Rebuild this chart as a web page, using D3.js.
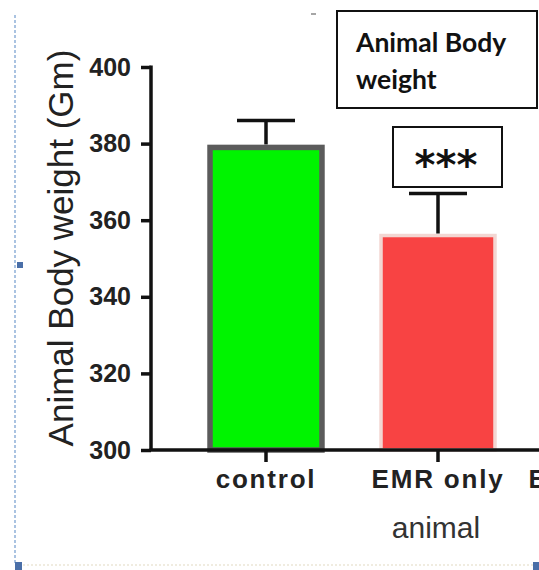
<!DOCTYPE html>
<html>
<head>
<meta charset="utf-8">
<script src="https://cdn.jsdelivr.net/npm/d3@7"></script>
<style>
  body { margin: 0; background: #fff; }
  svg { display: block; }
  .axis path, .axis line { stroke: #111; stroke-width: 3.5; }
  .axis text { font-family: "Liberation Sans", Arial, sans-serif; font-weight: bold; fill: #222; }
</style>
</head>
<body>
<div id="chart"></div>
<script>
// data
let groups = ['control', 'EMR only', 'EMR + drug'];
let means = [379, 356, null];
let errors = [7, 11, null];
let yTicks = [300, 320, 340, 360, 380, 400];
let barColors = ['#00f400', '#f84343', '#888'];
let barStrokes = ['#5b5b5b', '#f3d6d2', '#888'];

let W = 539, H = 570;
let svg = d3.select('#chart').append('svg').attr('width', W).attr('height', H);

// page decorations (selection frame of the source document)
svg.append('line').attr('x1', 15).attr('x2', 15).attr('y1', 15).attr('y2', 565)
    .attr('stroke', '#8fb0d8').attr('stroke-width', 1.5).attr('stroke-dasharray', '3,2');
svg.append('line').attr('x1', 15).attr('x2', W).attr('y1', 565).attr('y2', 565)
    .attr('stroke', '#ece6d6').attr('stroke-width', 1.5).attr('stroke-dasharray', '2,2');
svg.append('rect').attr('x', 17).attr('y', 262).attr('width', 6).attr('height', 6).attr('fill', '#4a6fa8');
svg.append('rect').attr('x', 15).attr('y', 562).attr('width', 7).attr('height', 8).attr('fill', '#4a6fa8');
svg.append('rect').attr('x', 533).attr('y', 562).attr('width', 6).attr('height', 8).attr('fill', '#4a6fa8');
svg.append('line').attr('x1', 311).attr('x2', 316).attr('y1', 14).attr('y2', 14)
    .attr('stroke', '#888').attr('stroke-width', 1.5);

let x = d3.scaleBand().domain(groups).range([180, 696]).paddingInner(0.32).paddingOuter(0.16);
let y = d3.scaleLinear().domain([300, 400]).range([450, 67]);
let x0 = 151;

// bars
let bars = groups.map(function(g, i) { return {g: g, v: means[i], e: errors[i], i: i}; })
    .filter(function(d) { return d.v != null; });

svg.append('g').selectAll('rect').data(bars).enter().append('rect')
    .attr('x', function(d) { return x(d.g) + (d.i === 0 ? 2.5 : 1.5); })
    .attr('y', function(d) { return y(d.v); })
    .attr('width', function(d) { return x.bandwidth() - (d.i === 0 ? 5 : 3); })
    .attr('height', function(d) { return y(300) - y(d.v); })
    .attr('fill', function(d) { return barColors[d.i]; })
    .attr('stroke', function(d) { return barStrokes[d.i]; })
    .attr('stroke-width', function(d) { return d.i === 0 ? 5.5 : 3.5; });

// error bars (upper only)
let eg = svg.append('g').attr('stroke', '#111').attr('stroke-width', 3.5);
bars.forEach(function(d) {
    let cx = x(d.g) + x.bandwidth() / 2;
    eg.append('line').attr('x1', cx).attr('x2', cx)
        .attr('y1', y(d.v) - (d.i === 0 ? 3 : 2)).attr('y2', y(d.v + d.e));
    eg.append('line').attr('x1', cx - 29).attr('x2', cx + 29)
        .attr('y1', y(d.v + d.e)).attr('y2', y(d.v + d.e));
});

// axes
let yAxis = svg.append('g').attr('class', 'axis')
    .attr('transform', 'translate(' + x0 + ',0)')
    .call(d3.axisLeft(y).tickValues(yTicks).tickSize(10).tickSizeOuter(0).tickPadding(10));
yAxis.selectAll('text').style('font-size', '25px');
yAxis.select('.domain').attr('d', 'M0,' + (y(400) - 1.5) + 'V' + y(300));

let xAxis = svg.append('g').attr('class', 'axis')
    .attr('transform', 'translate(0,' + y(300) + ')')
    .call(d3.axisBottom(x).tickSize(12).tickSizeOuter(0).tickPadding(8));
xAxis.select('.domain').attr('d', 'M' + (x0 - 1.5) + ',0H' + W);
xAxis.selectAll('text').style('font-size', '26px').style('letter-spacing', '1.8px');

// axis titles
svg.append('text')
    .attr('transform', 'translate(73,' + 248 + ') rotate(-90)')
    .attr('text-anchor', 'middle')
    .style('font-family', '"Liberation Sans", Arial, sans-serif')
    .style('font-size', '35px').style('fill', '#222')
    .text('Animal Body weight (Gm)');

svg.append('text')
    .attr('x', 436).attr('y', 538)
    .attr('text-anchor', 'middle')
    .style('font-family', '"Liberation Sans", Arial, sans-serif')
    .style('font-size', '30px').style('fill', '#333')
    .text('animal');

// title box
svg.append('rect').attr('x', 337).attr('y', 11).attr('width', 200).attr('height', 97)
    .attr('fill', '#fff').attr('stroke', '#111').attr('stroke-width', 2);
let title = svg.append('text')
    .style('font-family', 'Lato, "Open Sans", sans-serif').style('font-weight', 'bold')
    .style('font-size', '26.5px').style('fill', '#111');
title.append('tspan').attr('x', 356).attr('y', 52).text('Animal Body');
title.append('tspan').attr('x', 356).attr('y', 89).text('weight');

// significance box
svg.append('rect').attr('x', 393).attr('y', 127).attr('width', 109).attr('height', 60)
    .attr('fill', '#fff').attr('stroke', '#111').attr('stroke-width', 2);
svg.append('text').attr('x', 446).attr('y', 179)
    .attr('text-anchor', 'middle')
    .style('font-family', '"DejaVu Sans", sans-serif').style('font-weight', 'bold')
    .style('font-size', '40px').style('fill', '#111')
    .text('***');
</script>
</body>
</html>
